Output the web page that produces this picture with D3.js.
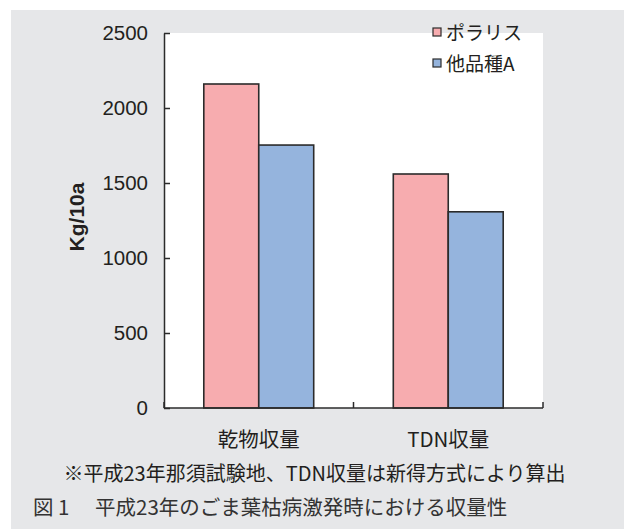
<!DOCTYPE html>
<html><head><meta charset="utf-8">
<script src="https://cdn.jsdelivr.net/npm/d3@7"></script>
<style>
html,body{margin:0;padding:0;background:#fff;}
svg{display:block;}
</style></head>
<body>
<svg id="c" width="624" height="529"></svg>
<script>
const categories = ["乾物収量", "TDN収量"];
const seriesNames = ["ポラリス", "他品種A"];
const polaris = [2160, 1560];
const otherA = [1753, 1308];
const yTicks = [0, 500, 1000, 1500, 2000, 2500];
const yLabel = "Kg/10a";
const note = "※平成23年那須試験地、TDN収量は新得方式により算出";
const captionNo = "図 1";
const captionText = "平成23年のごま葉枯病激発時における収量性";

const colors = ["#F7ACAF", "#95B4DD"];
const stroke = "#2b2b2b";
const textCol = "#231F20";
const jp = "'Noto Sans CJK JP', 'Noto Sans', sans-serif";
const lat = "'Liberation Sans', Arial, sans-serif";

const svg = d3.select("#c");
svg.append("rect").attr("x", 11).attr("y", 10).attr("width", 613).attr("height", 519).attr("fill", "#E6E7E9");

const L = 164, R = 543, T = 33, B = 408;
svg.append("rect").attr("x", L).attr("y", T).attr("width", R - L).attr("height", B - T).attr("fill", "#fff");

const y = d3.scaleLinear().domain([0, 2500]).range([B, T]);
const x0 = d3.scaleBand().domain(categories).range([L, R]).padding(0);
const bw = x0.bandwidth();
const groupFrac = 0.58;
const x1 = d3.scaleBand().domain(seriesNames)
  .range([bw * (1 - groupFrac) / 2, bw * (1 + groupFrac) / 2]).padding(0);

const data = categories.map((c, i) => ({cat: c, vals: [polaris[i], otherA[i]]}));

const g = svg.append("g");
data.forEach(d => {
  d.vals.forEach((v, j) => {
    g.append("rect")
      .attr("x", x0(d.cat) + x1(seriesNames[j]))
      .attr("y", y(v))
      .attr("width", x1.bandwidth())
      .attr("height", y(0) - y(v))
      .attr("fill", colors[j])
      .attr("stroke", stroke)
      .attr("stroke-width", 1.6);
  });
});

// Y axis
const yAxis = d3.axisLeft(y).tickValues(yTicks).tickFormat(d3.format("d"))
  .tickSizeInner(-6).tickSizeOuter(0).tickPadding(16);
const ya = svg.append("g").attr("transform", `translate(${L},0)`).call(yAxis);
ya.select(".domain").attr("stroke", stroke).attr("stroke-width", 1.5);
ya.selectAll(".tick line").attr("stroke", stroke).attr("stroke-width", 1.5);
ya.selectAll(".tick text").attr("font-family", lat).attr("font-size", 20.5).attr("fill", textCol);

// X axis
const xa = svg.append("g").attr("transform", `translate(0,${B})`);
xa.append("line").attr("x1", L).attr("x2", R).attr("y1", 0).attr("y2", 0)
  .attr("stroke", stroke).attr("stroke-width", 1.5);
const bounds = categories.map(c => x0(c)).concat([x0.range()[1]]);
xa.selectAll("line.bt").data(bounds).enter().append("line")
  .attr("x1", d => d).attr("x2", d => d).attr("y1", 0).attr("y2", -6)
  .attr("stroke", stroke).attr("stroke-width", 1.5);
svg.selectAll("text.cat").data(categories).enter().append("text")
  .attr("x", d => x0(d) + bw / 2).attr("y", 447)
  .attr("text-anchor", "middle").attr("font-family", jp)
  .attr("font-size", 20.5).attr("fill", textCol).text(d => d);

// Y label
svg.append("text").attr("transform", "translate(84,217) rotate(-90)")
  .attr("text-anchor", "middle").attr("font-family", lat).attr("font-weight", "bold")
  .attr("font-size", 21).attr("fill", textCol).text(yLabel);

// Legend
const leg = svg.append("g");
seriesNames.forEach((s, j) => {
  const ly = 28 + j * 31;
  leg.append("rect").attr("x", 433).attr("y", ly).attr("width", 8).attr("height", 8)
    .attr("fill", colors[j]).attr("stroke", stroke).attr("stroke-width", 1.2);
  leg.append("text").attr("x", 446).attr("y", ly + 12).attr("font-family", jp)
    .attr("font-size", 19).attr("fill", textCol).text(s);
});

// Note & caption
svg.append("text").attr("x", 314.5).attr("y", 481).attr("text-anchor", "middle")
  .attr("font-family", jp).attr("font-size", 20).attr("fill", textCol).text(note);
const cap = svg.append("text").attr("y", 515).attr("font-family", jp).attr("font-size", 20.5).attr("fill", "#333");
cap.append("tspan").attr("x", 33).text(captionNo);
cap.append("tspan").attr("x", 95).text(captionText);
</script>
</body></html>
